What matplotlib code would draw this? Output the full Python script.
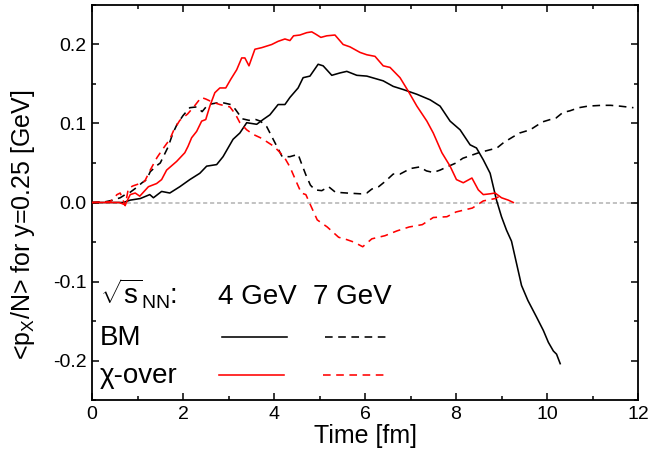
import matplotlib
matplotlib.use("Agg")
import matplotlib.pyplot as plt

plt.rcParams['font.family'] = ['Liberation Sans', 'DejaVu Sans']
plt.rcParams['mathtext.fontset'] = 'custom'
plt.rcParams['mathtext.rm'] = 'Liberation Sans'
plt.rcParams['mathtext.it'] = 'Liberation Sans:italic'
plt.rcParams['axes.unicode_minus'] = False
plt.rcParams['lines.scale_dashes'] = False

# ---- data ----
bm4_t = [0, 0.5, 0.69, 0.84, 1.06, 1.27, 1.35, 1.53, 1.71, 1.93, 2.15, 2.37, 2.52, 2.74, 2.88,
         3.03, 3.1, 3.25, 3.4, 3.62, 3.76, 3.91, 4.09, 4.24, 4.35, 4.53, 4.64, 4.79, 4.97, 5.08,
         5.27, 5.45, 5.6, 5.82, 6.04, 6.4, 6.62, 6.84, 7.14, 7.43, 7.65, 7.87, 8.09, 8.31, 8.45,
         8.6, 8.75, 8.89, 9.0, 9.11, 9.22, 9.33, 9.44, 9.58, 9.77, 9.92, 10.03, 10.14, 10.21, 10.29]
bm4_v = [0, 0, 0, 0.003, 0.005, 0.010, 0.006, 0.014, 0.012, 0.020, 0.029, 0.037, 0.046, 0.048, 0.058,
         0.073, 0.080, 0.088, 0.101, 0.099, 0.105, 0.111, 0.124, 0.124, 0.133, 0.145, 0.158, 0.160, 0.175, 0.173,
         0.161, 0.164, 0.166, 0.161, 0.160, 0.154, 0.147, 0.143, 0.137, 0.130, 0.122, 0.103, 0.092, 0.073, 0.069,
         0.054, 0.037, 0.003, -0.018, -0.035, -0.049, -0.077, -0.105, -0.124, -0.145, -0.162, -0.177, -0.188, -0.192, -0.204]

cx4_t = [0, 0.6, 0.73, 0.84, 0.95, 1.05, 1.24, 1.42, 1.53, 1.64, 1.86, 2.04, 2.11, 2.19, 2.3,
         2.41, 2.5, 2.59, 2.7, 2.81, 2.94, 3.05, 3.18, 3.29, 3.36, 3.45, 3.58, 3.73, 3.84, 3.95,
         4.09, 4.24, 4.35, 4.43, 4.57, 4.72, 4.83, 4.92, 5.03, 5.16, 5.34, 5.52, 5.67, 5.89, 6.04,
         6.22, 6.4, 6.55, 6.77, 6.95, 7.14, 7.36, 7.5, 7.69, 7.87, 8.01, 8.16, 8.35, 8.49, 8.6,
         8.75, 8.86, 9.0, 9.15, 9.26]
cx4_v = [0, 0, -0.003, 0.010, 0.012, 0.008, 0.020, 0.024, 0.029, 0.041, 0.052, 0.063, 0.071, 0.082, 0.090,
         0.103, 0.105, 0.122, 0.139, 0.145, 0.145, 0.156, 0.168, 0.183, 0.183, 0.173, 0.194, 0.196, 0.198, 0.200,
         0.204, 0.207, 0.205, 0.211, 0.212, 0.215, 0.216, 0.213, 0.209, 0.211, 0.212, 0.200, 0.197, 0.190, 0.187,
         0.185, 0.173, 0.171, 0.158, 0.141, 0.122, 0.103, 0.088, 0.063, 0.046, 0.029, 0.025, 0.031, 0.016, 0.010,
         0.011, 0.012, 0.006, 0.003, 0.000]

bm7_t = [0, 0.3, 0.46, 0.62, 0.73, 0.84, 0.98, 1.1, 1.2, 1.28, 1.43, 1.5, 1.67, 1.78, 1.87,
         2.0, 2.15, 2.3, 2.42, 2.55, 2.74, 2.9, 3.05, 3.15, 3.3, 3.45, 3.6, 3.7, 3.84, 4.0,
         4.18, 4.35, 4.53, 4.6, 4.7, 4.8, 4.9, 5.05, 5.2, 5.35, 5.6, 5.9, 6.04, 6.15, 6.3,
         6.45, 6.62, 6.77, 7.0, 7.2, 7.35, 7.5, 7.65, 7.8, 8.0, 8.15, 8.35, 8.5, 8.7, 8.9,
         9.05, 9.25, 9.4, 9.63, 9.9, 10.07, 10.2, 10.35, 10.5, 10.7, 10.9, 11.2, 11.4, 11.6, 11.75, 11.9]
bm7_v = [0, 0.001, 0.003, 0.006, 0.010, 0.013, 0.019, 0.025, 0.029, 0.039, 0.047, 0.050, 0.070, 0.088, 0.099,
         0.110, 0.120, 0.121, 0.115, 0.124, 0.126, 0.126, 0.124, 0.118, 0.106, 0.104, 0.105, 0.103, 0.096, 0.078,
         0.058, 0.058, 0.061, 0.050, 0.035, 0.022, 0.016, 0.015, 0.020, 0.013, 0.012, 0.011, 0.012, 0.017, 0.020,
         0.027, 0.036, 0.036, 0.043, 0.045, 0.040, 0.038, 0.041, 0.045, 0.050, 0.056, 0.060, 0.063, 0.066, 0.069,
         0.076, 0.083, 0.088, 0.092, 0.102, 0.105, 0.107, 0.114, 0.116, 0.120, 0.122, 0.123, 0.123, 0.122, 0.121, 0.120]

cx7_t = [0, 0.4, 0.55, 0.62, 0.73, 0.8, 0.9, 1.05, 1.16, 1.27, 1.43, 1.56, 1.71, 1.8, 1.93,
         2.1, 2.25, 2.4, 2.5, 2.65, 2.81, 3.03, 3.15, 3.25, 3.4, 3.55, 3.7, 3.84, 4.0, 4.12,
         4.24, 4.35, 4.5, 4.6, 4.7, 4.8, 4.95, 5.17, 5.42, 5.6, 5.75, 5.95, 6.15, 6.44, 6.7,
         6.97, 7.26, 7.5, 7.8, 8.0, 8.36, 8.6, 8.86, 9.0]
cx7_v = [0, 0.001, 0.010, 0.012, -0.004, 0.018, 0.021, 0.024, 0.027, 0.040, 0.057, 0.068, 0.080, 0.092, 0.104,
         0.112, 0.122, 0.133, 0.131, 0.127, 0.124, 0.121, 0.112, 0.101, 0.092, 0.086, 0.082, 0.077, 0.071, 0.064,
         0.056, 0.045, 0.025, 0.012, 0.010, -0.003, -0.022, -0.031, -0.044, -0.047, -0.050, -0.056, -0.046, -0.042, -0.036,
         -0.031, -0.028, -0.019, -0.018, -0.012, -0.007, 0.002, 0.005, 0.009]

energies = ['4 GeV', '7 GeV']
models = ['BM', '\u03c7-over']
xticks = [0, 2, 4, 6, 8, 10, 12]
yticks = [-0.2, -0.1, 0.0, 0.1, 0.2]
ytick_labels = ['-0.2', '-0.1', '0.0', '0.1', '0.2']

# ---- figure ----
fig = plt.figure(figsize=(6.48, 4.61), dpi=100)
ax = fig.add_axes([92/648, 1-400/461, 546/648, 395/461])

lw = 1.15
dash = (0, (5.5, 4.0))
ax.axhline(0, color='#b8b8b8', lw=1.2, ls=(0, (3.0, 2.0)), zorder=1)
ax.plot(bm4_t, bm4_v, color='black', lw=lw, zorder=3)
ax.plot(bm7_t, bm7_v, color='black', lw=lw, ls=dash, zorder=3)
ax.plot(cx4_t, cx4_v, color='#ff0000', lw=lw, zorder=3)
ax.plot(cx7_t, cx7_v, color='#ff0000', lw=lw, ls=dash, zorder=3)

ax.set_xlim(0, 12)
ax.set_ylim(-0.25, 0.25)
ax.set_xticks(xticks)
ax.set_xticks([1, 3, 5, 7, 9, 11], minor=True)
ax.set_yticks(yticks)
ax.set_yticklabels(ytick_labels)
ax.set_yticks([-0.25, -0.15, -0.05, 0.05, 0.15, 0.25], minor=True)
ax.tick_params(which='both', direction='in', top=True, right=True, width=1.1, labelsize=14, pad=4)
ax.tick_params(which='major', length=5)
ax.tick_params(which='minor', length=3)
for s in ax.spines.values():
    s.set_linewidth(1.3)

ax.set_xlabel('Time [fm]', fontsize=18)
ax.set_ylabel(r'<p$_{\mathrm{X}}$/N> for y=0.25 [GeV]', fontsize=18)
ax.xaxis.set_label_coords(0.5, -0.062)
ax.yaxis.set_label_coords(-0.10, 0.445)

# ---- legend block ----
tf = ax.transAxes
fs = 20
ax.text(0.0147, 0.243, r'$\sqrt{\mathrm{s}}_{\mathrm{NN}}$:', transform=tf, fontsize=fs, va='baseline')
ax.text(0.231, 0.243, energies[0], transform=tf, fontsize=fs, va='baseline')
ax.text(0.405, 0.243, energies[1], transform=tf, fontsize=fs, va='baseline')
ax.text(0.0147, 0.139, models[0], transform=tf, fontsize=fs, va='baseline')
ax.text(0.0147, 0.043, models[1], transform=tf, fontsize=fs, va='baseline')
ax.plot([0.238, 0.357], [0.160, 0.160], transform=tf, color='black', lw=lw)
ax.plot([0.427, 0.546], [0.160, 0.160], transform=tf, color='black', lw=lw, ls=dash)
ax.plot([0.233, 0.352], [0.063, 0.063], transform=tf, color='#ff0000', lw=lw)
ax.plot([0.423, 0.540], [0.063, 0.063], transform=tf, color='#ff0000', lw=lw, ls=dash)

fig.savefig('out.png', dpi=100)
